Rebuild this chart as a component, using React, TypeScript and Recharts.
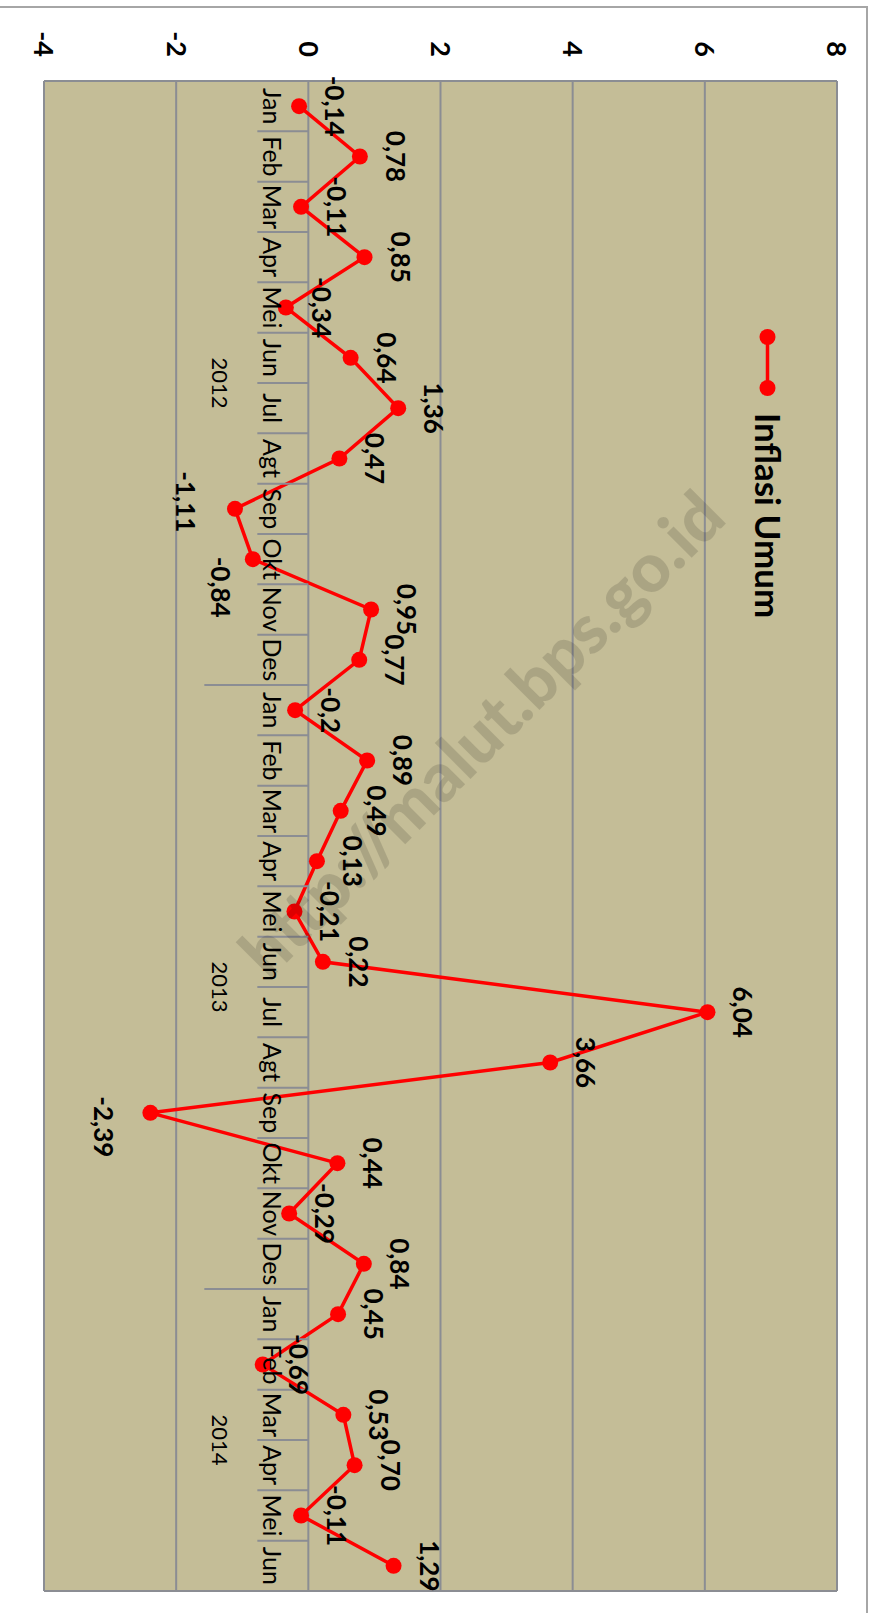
import { ComposedChart, Line, XAxis, YAxis, CartesianGrid, LabelList } from "recharts";

// Inflasi Umum (month-to-month, %), Jan 2012 – Jun 2014
const months = [
  "Jan", "Feb", "Mar", "Apr", "Mei", "Jun", "Jul", "Agt", "Sep", "Okt", "Nov", "Des",
  "Jan", "Feb", "Mar", "Apr", "Mei", "Jun", "Jul", "Agt", "Sep", "Okt", "Nov", "Des",
  "Jan", "Feb", "Mar", "Apr", "Mei", "Jun",
];
const years = [
  ...Array(12).fill("2012"),
  ...Array(12).fill("2013"),
  ...Array(6).fill("2014"),
];
const inflation = [
  -0.14, 0.78, -0.11, 0.85, -0.34, 0.64, 1.36, 0.47, -1.11, -0.84, 0.95, 0.77,
  -0.2, 0.89, 0.49, 0.13, -0.21, 0.22, 6.04, 3.66, -2.39, 0.44, -0.29, 0.84,
  0.45, -0.69, 0.53, 0.7, -0.11, 1.29,
];
const valueLabels = [
  "-0,14", "0,78", "-0,11", "0,85", "-0,34", "0,64", "1,36", "0,47", "-1,11", "-0,84", "0,95", "0,77",
  "-0,2", "0,89", "0,49", "0,13", "-0,21", "0,22", "6,04", "3,66", "-2,39", "0,44", "-0,29", "0,84",
  "0,45", "-0,69", "0,53", "0,70", "-0,11", "1,29",
];
const yTicks = [-4, -2, 0, 2, 4, 6, 8];
const seriesName = "Inflasi Umum";
const watermark = "http://malut.bps.go.id";

const rows = months.map((m, i) => ({ key: `${m} ${years[i]}`, value: inflation[i] }));

// chart is drawn landscape, then turned 90° clockwise
const W = 1613;
const H = 872;
const MARGIN = { top: 35, right: 22, bottom: 0, left: 0 };
const Y_AXIS_W = 81;
const X_AXIS_H = 44;
const PLOT_W = W - MARGIN.left - MARGIN.right - Y_AXIS_W;
const PLOT_H = H - MARGIN.top - MARGIN.bottom - X_AXIS_H;
const Y_MIN = -4;
const Y_MAX = 8;

const FONT = "Lato, 'Open Sans', sans-serif";
const TAN = "#C4BD97";
const GRID = "#8b8d93";
const RED = "#FF0000";

// hand-placed labels in the original (those sitting under the point)
const LABEL_NUDGE: Record<number, { dx: number; dy: number }> = {
  8: { dx: -7, dy: 3 },
  9: { dx: 28, dy: -14 },
  20: { dx: 14, dy: 0 },
};

// eslint-disable-next-line @typescript-eslint/no-explicit-any
function PointLabel(props: any) {
  const vb = props.viewBox ?? {};
  const x = props.x ?? vb.x;
  const y = props.y ?? vb.y;
  const index = props.index;
  const below = inflation[index] < -0.75;
  const nudge = LABEL_NUDGE[index] ?? { dx: 0, dy: 0 };
  return (
    <text
      x={x + nudge.dx}
      y={(below ? y + 56 : y - 26) + nudge.dy}
      textAnchor="middle"
      fontFamily={FONT}
      fontWeight={700}
      fontSize={26}
      fill="#000"
    >
      {valueLabels[index]}
    </text>
  );
}

// category axis crosses at 0: month labels + year groups
// eslint-disable-next-line @typescript-eslint/no-explicit-any
function CategoryTick(props: any) {
  const { x, y, index } = props;
  const band = PLOT_W / months.length;
  const zeroY = y - (PLOT_H * (0 - Y_MIN)) / (Y_MAX - Y_MIN);
  const left = x - band / 2;
  const startsYear = index === 0 || years[index] !== years[index - 1];
  const isLast = index === months.length - 1;

  let count = 0;
  while (startsYear && index + count < years.length && years[index + count] === years[index]) count++;

  return (
    <g>
      <line x1={left} x2={left} y1={zeroY} y2={zeroY + (startsYear ? 104 : 51)} stroke={GRID} strokeWidth={2} />
      {isLast && (
        <line x1={x + band / 2} x2={x + band / 2} y1={zeroY} y2={zeroY + 104} stroke={GRID} strokeWidth={2} />
      )}
      <text x={x} y={zeroY + 45} textAnchor="middle" fontFamily={FONT} fontSize={25} fill="#000">
        {months[index]}
      </text>
      {startsYear && (
        <text x={left + (count * band) / 2} y={zeroY + 96} textAnchor="middle" fontFamily={FONT} fontSize={22} fill="#000">
          {years[index]}
        </text>
      )}
    </g>
  );
}

export default function App() {
  return (
    <div
      style={{
        position: "absolute",
        left: 0,
        top: 0,
        width: 872,
        height: 1613,
        overflow: "hidden",
        background: "white",
      }}
    >
      {/* outer chart frame (only top and right edges are in view) */}
      <div
        style={{
          position: "absolute",
          left: -4,
          top: 6,
          width: 872,
          height: 1700,
          border: "2px solid #a6a6a6",
          boxSizing: "border-box",
        }}
      />

      <div
        style={{
          position: "absolute",
          left: 0,
          top: 0,
          width: W,
          height: H,
          transformOrigin: "0 0",
          transform: `translateX(${H}px) rotate(90deg)`,
        }}
      >
        <ComposedChart width={W} height={H} data={rows} margin={MARGIN}>
          <CartesianGrid
            stroke={GRID}
            strokeWidth={2}
            fill={TAN}
            fillOpacity={1}
            horizontal
            vertical
            // eslint-disable-next-line @typescript-eslint/no-explicit-any
            verticalCoordinatesGenerator={({ offset }: any) => [offset.left, offset.left + offset.width]}
          />
          <XAxis
            dataKey="key"
            scale="band"
            height={X_AXIS_H}
            axisLine={false}
            tickLine={false}
            tickSize={0}
            tickMargin={0}
            interval={0}
            tick={<CategoryTick />}
          />
          <YAxis
            domain={[Y_MIN, Y_MAX]}
            ticks={yTicks}
            width={Y_AXIS_W}
            axisLine={false}
            tickLine={false}
            tickSize={0}
            tickMargin={24}
            tick={{ fontSize: 27, fontWeight: 700, fill: "#000", fontFamily: FONT }}
          />
          <Line
            type="linear"
            dataKey="value"
            name={seriesName}
            stroke={RED}
            strokeWidth={3.5}
            dot={{ r: 8, fill: RED, stroke: RED, strokeWidth: 0 }}
            activeDot={false}
            isAnimationActive={false}
          >
            <LabelList dataKey="value" content={PointLabel} />
          </Line>
        </ComposedChart>

        {/* Legend */}
        <div
          style={{
            position: "absolute",
            left: 329,
            top: 104,
            transform: "translateY(-50%)",
            display: "flex",
            alignItems: "center",
          }}
        >
          <svg width={67} height={20}>
            <line x1={8} x2={59} y1={10} y2={10} stroke={RED} strokeWidth={3.5} />
            <circle cx={8} cy={10} r={8} fill={RED} />
            <circle cx={59} cy={10} r={8} fill={RED} />
          </svg>
          <span style={{ marginLeft: 17, fontFamily: FONT, fontWeight: 700, fontSize: 35, color: "#000", lineHeight: 1 }}>
            {seriesName}
          </span>
        </div>
      </div>

      {/* watermark */}
      <div
        style={{
          position: "absolute",
          left: 480,
          top: 732,
          transform: "translate(-50%, -50%) rotate(-45deg)",
          whiteSpace: "nowrap",
          fontFamily: FONT,
          fontWeight: 900,
          fontSize: 68,
          color: "rgba(0,0,0,0.13)",
          pointerEvents: "none",
        }}
      >
        {watermark}
      </div>
    </div>
  );
}
